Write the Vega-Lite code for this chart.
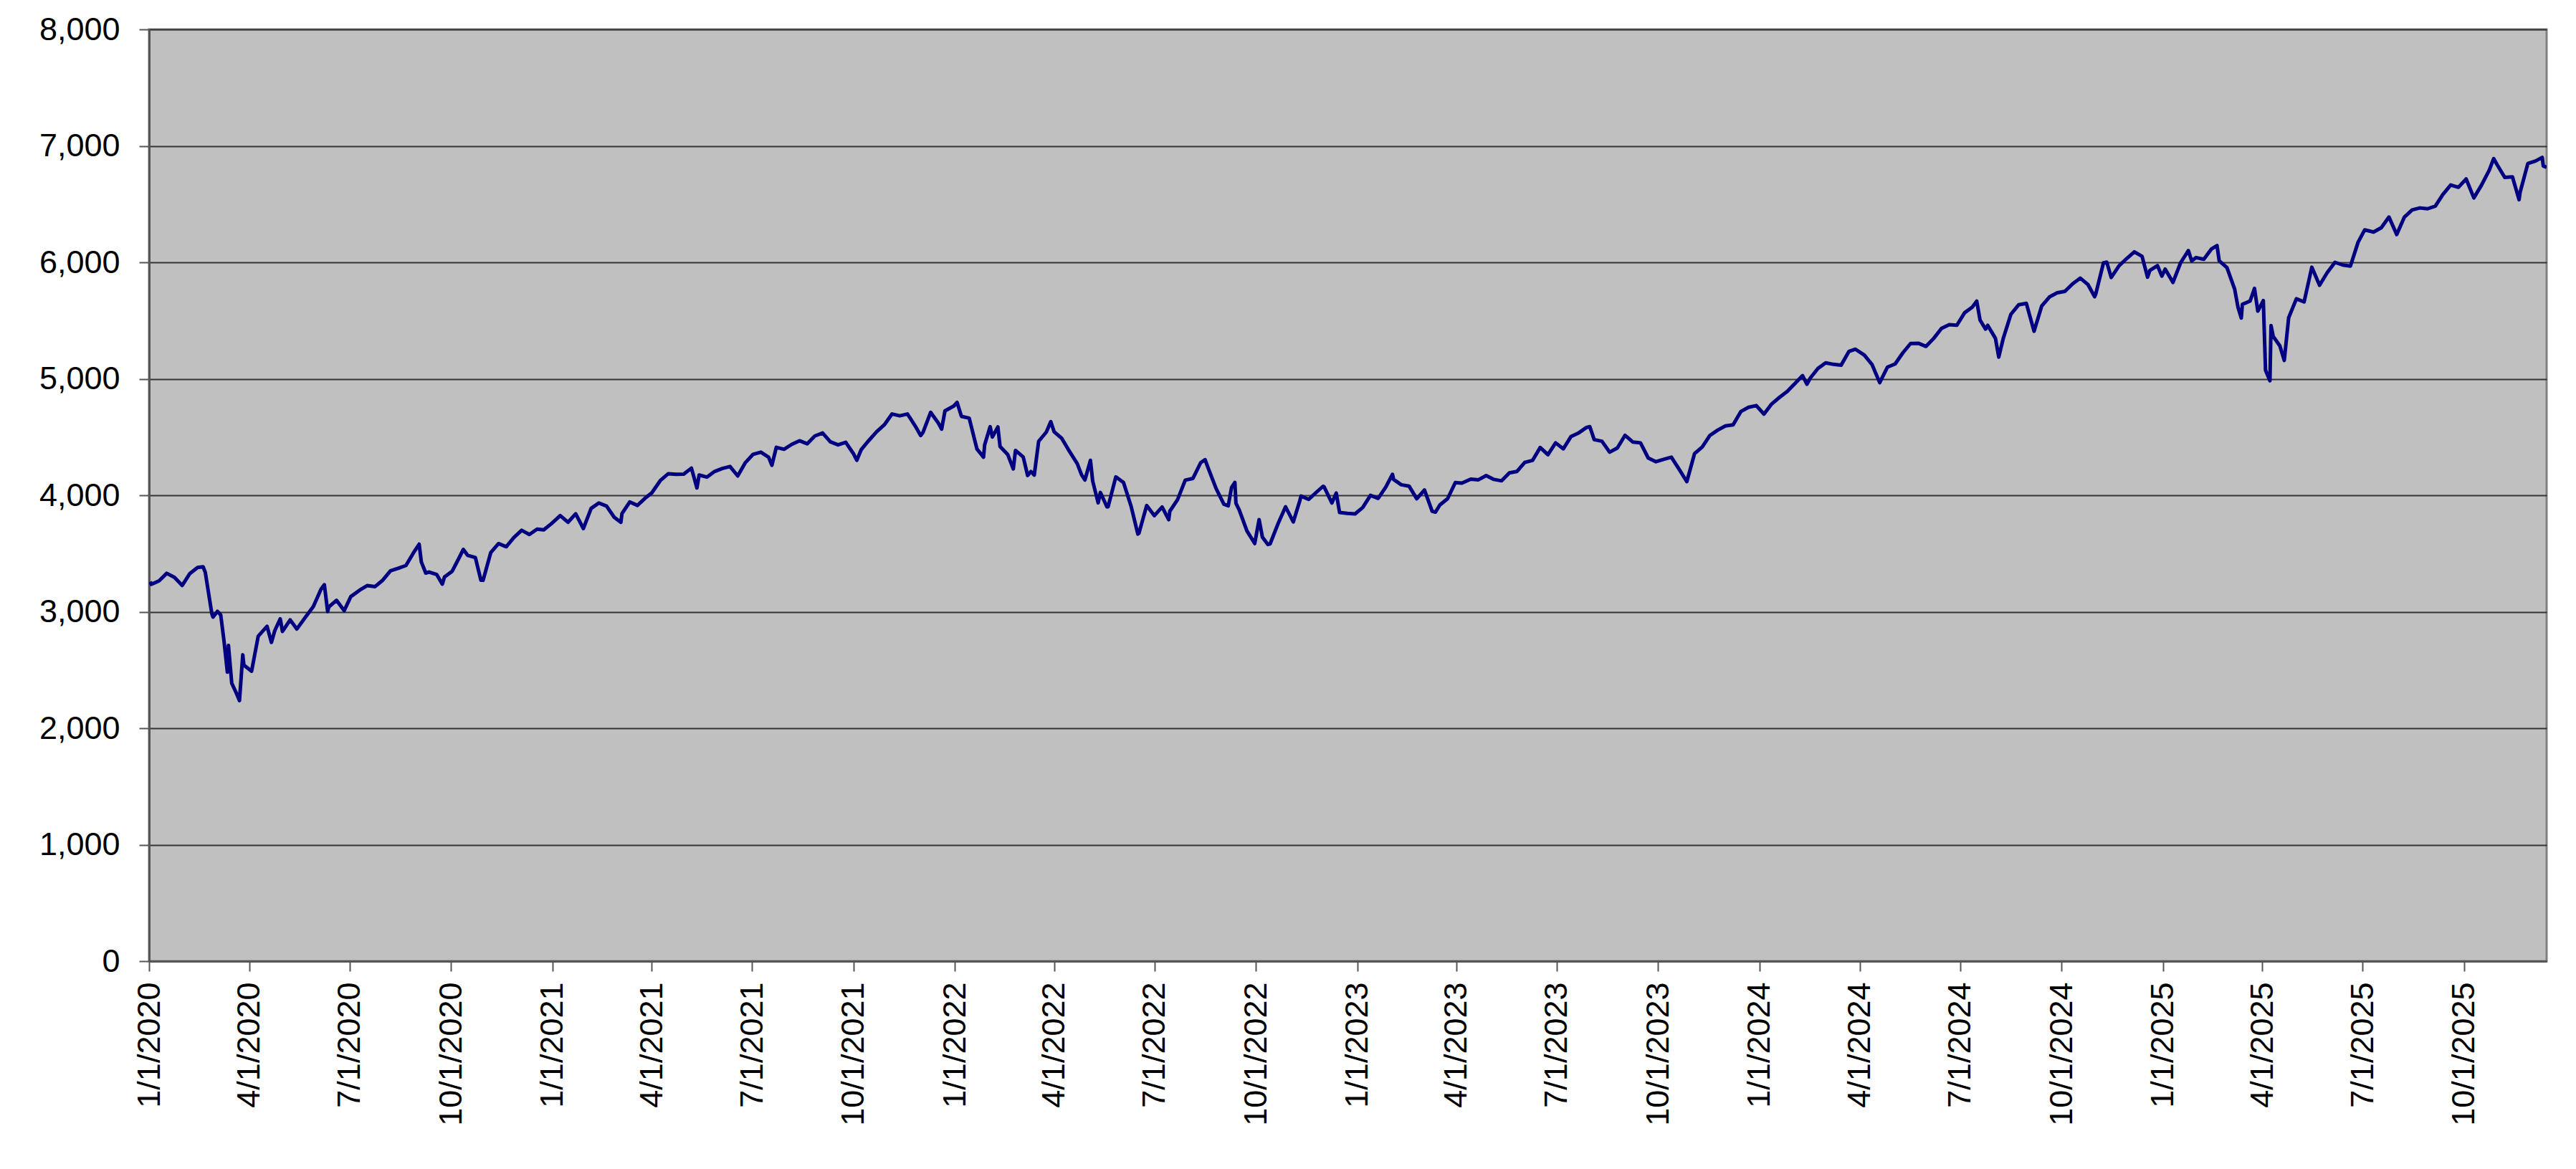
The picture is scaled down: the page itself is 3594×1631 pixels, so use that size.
{
  "$schema": "https://vega.github.io/schema/vega-lite/v6.json",
  "width": 3345,
  "height": 1300,
  "autosize": {"type": "none"},
  "padding": {"left": 208, "top": 41, "right": 41, "bottom": 290},
  "background": "#ffffff",
  "data": {
    "values": [
      {"date": "2020-01-02", "close": 3258}, {"date": "2020-01-03", "close": 3235}, {"date": "2020-01-10", "close": 3265},
      {"date": "2020-01-17", "close": 3330}, {"date": "2020-01-24", "close": 3295}, {"date": "2020-01-31", "close": 3226},
      {"date": "2020-02-07", "close": 3328}, {"date": "2020-02-14", "close": 3380}, {"date": "2020-02-19", "close": 3386},
      {"date": "2020-02-21", "close": 3338}, {"date": "2020-02-27", "close": 2979}, {"date": "2020-02-28", "close": 2954},
      {"date": "2020-03-03", "close": 3003}, {"date": "2020-03-06", "close": 2972}, {"date": "2020-03-09", "close": 2747},
      {"date": "2020-03-12", "close": 2481}, {"date": "2020-03-13", "close": 2711}, {"date": "2020-03-16", "close": 2386},
      {"date": "2020-03-20", "close": 2305}, {"date": "2020-03-23", "close": 2237}, {"date": "2020-03-26", "close": 2630},
      {"date": "2020-03-27", "close": 2541}, {"date": "2020-04-03", "close": 2489}, {"date": "2020-04-09", "close": 2790},
      {"date": "2020-04-17", "close": 2875}, {"date": "2020-04-21", "close": 2737}, {"date": "2020-04-24", "close": 2837},
      {"date": "2020-04-29", "close": 2939}, {"date": "2020-05-01", "close": 2831}, {"date": "2020-05-08", "close": 2930},
      {"date": "2020-05-14", "close": 2852}, {"date": "2020-05-15", "close": 2864}, {"date": "2020-05-22", "close": 2955},
      {"date": "2020-05-29", "close": 3044}, {"date": "2020-06-05", "close": 3194}, {"date": "2020-06-08", "close": 3232},
      {"date": "2020-06-11", "close": 3002}, {"date": "2020-06-12", "close": 3041}, {"date": "2020-06-19", "close": 3098},
      {"date": "2020-06-26", "close": 3009}, {"date": "2020-07-02", "close": 3130}, {"date": "2020-07-10", "close": 3185},
      {"date": "2020-07-17", "close": 3225}, {"date": "2020-07-24", "close": 3216}, {"date": "2020-07-31", "close": 3271},
      {"date": "2020-08-07", "close": 3351}, {"date": "2020-08-14", "close": 3373}, {"date": "2020-08-21", "close": 3397},
      {"date": "2020-08-28", "close": 3508}, {"date": "2020-09-02", "close": 3580}, {"date": "2020-09-04", "close": 3427},
      {"date": "2020-09-08", "close": 3332}, {"date": "2020-09-11", "close": 3341}, {"date": "2020-09-18", "close": 3319},
      {"date": "2020-09-23", "close": 3237}, {"date": "2020-09-25", "close": 3298}, {"date": "2020-10-02", "close": 3348},
      {"date": "2020-10-09", "close": 3477}, {"date": "2020-10-12", "close": 3535}, {"date": "2020-10-16", "close": 3484},
      {"date": "2020-10-23", "close": 3465}, {"date": "2020-10-28", "close": 3271}, {"date": "2020-10-30", "close": 3270},
      {"date": "2020-11-06", "close": 3509}, {"date": "2020-11-13", "close": 3585}, {"date": "2020-11-20", "close": 3558},
      {"date": "2020-11-27", "close": 3638}, {"date": "2020-12-04", "close": 3699}, {"date": "2020-12-11", "close": 3663},
      {"date": "2020-12-18", "close": 3709}, {"date": "2020-12-24", "close": 3703}, {"date": "2020-12-31", "close": 3756},
      {"date": "2021-01-08", "close": 3825}, {"date": "2021-01-15", "close": 3768}, {"date": "2021-01-22", "close": 3841},
      {"date": "2021-01-29", "close": 3714}, {"date": "2021-02-05", "close": 3887}, {"date": "2021-02-12", "close": 3934},
      {"date": "2021-02-19", "close": 3907}, {"date": "2021-02-26", "close": 3811}, {"date": "2021-03-04", "close": 3768},
      {"date": "2021-03-05", "close": 3842}, {"date": "2021-03-12", "close": 3943}, {"date": "2021-03-19", "close": 3913},
      {"date": "2021-03-26", "close": 3975}, {"date": "2021-04-01", "close": 4020}, {"date": "2021-04-09", "close": 4129},
      {"date": "2021-04-16", "close": 4185}, {"date": "2021-04-23", "close": 4180}, {"date": "2021-04-30", "close": 4181},
      {"date": "2021-05-07", "close": 4233}, {"date": "2021-05-12", "close": 4063}, {"date": "2021-05-14", "close": 4174},
      {"date": "2021-05-21", "close": 4156}, {"date": "2021-05-28", "close": 4204}, {"date": "2021-06-04", "close": 4230},
      {"date": "2021-06-11", "close": 4247}, {"date": "2021-06-18", "close": 4166}, {"date": "2021-06-25", "close": 4281},
      {"date": "2021-07-02", "close": 4352}, {"date": "2021-07-09", "close": 4370}, {"date": "2021-07-16", "close": 4327},
      {"date": "2021-07-19", "close": 4258}, {"date": "2021-07-23", "close": 4412}, {"date": "2021-07-30", "close": 4395},
      {"date": "2021-08-06", "close": 4437}, {"date": "2021-08-13", "close": 4468}, {"date": "2021-08-20", "close": 4442},
      {"date": "2021-08-27", "close": 4509}, {"date": "2021-09-03", "close": 4535}, {"date": "2021-09-10", "close": 4459},
      {"date": "2021-09-17", "close": 4433}, {"date": "2021-09-24", "close": 4455}, {"date": "2021-10-01", "close": 4357},
      {"date": "2021-10-04", "close": 4300}, {"date": "2021-10-08", "close": 4391}, {"date": "2021-10-15", "close": 4471},
      {"date": "2021-10-22", "close": 4545}, {"date": "2021-10-29", "close": 4605}, {"date": "2021-11-05", "close": 4698},
      {"date": "2021-11-12", "close": 4682}, {"date": "2021-11-19", "close": 4698}, {"date": "2021-11-26", "close": 4595},
      {"date": "2021-12-01", "close": 4513}, {"date": "2021-12-03", "close": 4538}, {"date": "2021-12-10", "close": 4712},
      {"date": "2021-12-17", "close": 4620}, {"date": "2021-12-20", "close": 4568}, {"date": "2021-12-23", "close": 4725},
      {"date": "2021-12-31", "close": 4766},
      {"date": "2022-01-03", "close": 4797}, {"date": "2022-01-07", "close": 4677}, {"date": "2022-01-14", "close": 4662},
      {"date": "2022-01-21", "close": 4398}, {"date": "2022-01-27", "close": 4327}, {"date": "2022-01-28", "close": 4432},
      {"date": "2022-02-02", "close": 4589}, {"date": "2022-02-04", "close": 4500}, {"date": "2022-02-09", "close": 4587},
      {"date": "2022-02-11", "close": 4419}, {"date": "2022-02-18", "close": 4349}, {"date": "2022-02-23", "close": 4226},
      {"date": "2022-02-25", "close": 4385}, {"date": "2022-03-04", "close": 4329}, {"date": "2022-03-08", "close": 4170},
      {"date": "2022-03-11", "close": 4204}, {"date": "2022-03-14", "close": 4173}, {"date": "2022-03-18", "close": 4463},
      {"date": "2022-03-25", "close": 4543}, {"date": "2022-03-29", "close": 4632}, {"date": "2022-04-01", "close": 4546},
      {"date": "2022-04-08", "close": 4488}, {"date": "2022-04-14", "close": 4392}, {"date": "2022-04-22", "close": 4272},
      {"date": "2022-04-26", "close": 4175}, {"date": "2022-04-29", "close": 4132}, {"date": "2022-05-04", "close": 4300},
      {"date": "2022-05-06", "close": 4123}, {"date": "2022-05-11", "close": 3935}, {"date": "2022-05-13", "close": 4024},
      {"date": "2022-05-19", "close": 3900}, {"date": "2022-05-20", "close": 3901}, {"date": "2022-05-27", "close": 4158},
      {"date": "2022-06-03", "close": 4109}, {"date": "2022-06-10", "close": 3901}, {"date": "2022-06-16", "close": 3667},
      {"date": "2022-06-17", "close": 3675}, {"date": "2022-06-24", "close": 3912}, {"date": "2022-07-01", "close": 3825},
      {"date": "2022-07-08", "close": 3899}, {"date": "2022-07-14", "close": 3790}, {"date": "2022-07-15", "close": 3863},
      {"date": "2022-07-22", "close": 3962}, {"date": "2022-07-29", "close": 4130}, {"date": "2022-08-05", "close": 4145},
      {"date": "2022-08-12", "close": 4280}, {"date": "2022-08-16", "close": 4305}, {"date": "2022-08-19", "close": 4228},
      {"date": "2022-08-26", "close": 4058}, {"date": "2022-09-02", "close": 3924}, {"date": "2022-09-06", "close": 3909},
      {"date": "2022-09-09", "close": 4067}, {"date": "2022-09-12", "close": 4110}, {"date": "2022-09-13", "close": 3932},
      {"date": "2022-09-16", "close": 3873}, {"date": "2022-09-23", "close": 3693}, {"date": "2022-09-30", "close": 3586},
      {"date": "2022-10-04", "close": 3791}, {"date": "2022-10-07", "close": 3640}, {"date": "2022-10-12", "close": 3577},
      {"date": "2022-10-14", "close": 3583}, {"date": "2022-10-21", "close": 3752}, {"date": "2022-10-28", "close": 3901},
      {"date": "2022-11-04", "close": 3771}, {"date": "2022-11-10", "close": 3956}, {"date": "2022-11-11", "close": 3993},
      {"date": "2022-11-18", "close": 3965}, {"date": "2022-11-25", "close": 4026}, {"date": "2022-12-01", "close": 4077},
      {"date": "2022-12-02", "close": 4072}, {"date": "2022-12-09", "close": 3934}, {"date": "2022-12-13", "close": 4019},
      {"date": "2022-12-16", "close": 3852}, {"date": "2022-12-23", "close": 3845}, {"date": "2022-12-30", "close": 3840},
      {"date": "2023-01-06", "close": 3895}, {"date": "2023-01-13", "close": 3999}, {"date": "2023-01-20", "close": 3973},
      {"date": "2023-01-27", "close": 4071}, {"date": "2023-02-02", "close": 4180}, {"date": "2023-02-03", "close": 4136},
      {"date": "2023-02-10", "close": 4090}, {"date": "2023-02-17", "close": 4079}, {"date": "2023-02-24", "close": 3970},
      {"date": "2023-03-03", "close": 4046}, {"date": "2023-03-10", "close": 3862}, {"date": "2023-03-13", "close": 3855},
      {"date": "2023-03-17", "close": 3917}, {"date": "2023-03-24", "close": 3971}, {"date": "2023-03-31", "close": 4109},
      {"date": "2023-04-06", "close": 4105}, {"date": "2023-04-14", "close": 4138}, {"date": "2023-04-21", "close": 4133},
      {"date": "2023-04-28", "close": 4169}, {"date": "2023-05-05", "close": 4136}, {"date": "2023-05-12", "close": 4124},
      {"date": "2023-05-19", "close": 4192}, {"date": "2023-05-26", "close": 4205}, {"date": "2023-06-02", "close": 4282},
      {"date": "2023-06-09", "close": 4299}, {"date": "2023-06-16", "close": 4410}, {"date": "2023-06-23", "close": 4348},
      {"date": "2023-06-30", "close": 4450}, {"date": "2023-07-07", "close": 4399}, {"date": "2023-07-14", "close": 4505},
      {"date": "2023-07-21", "close": 4536}, {"date": "2023-07-28", "close": 4582}, {"date": "2023-07-31", "close": 4589},
      {"date": "2023-08-04", "close": 4478}, {"date": "2023-08-11", "close": 4464}, {"date": "2023-08-18", "close": 4370},
      {"date": "2023-08-25", "close": 4406}, {"date": "2023-09-01", "close": 4515}, {"date": "2023-09-08", "close": 4457},
      {"date": "2023-09-15", "close": 4450}, {"date": "2023-09-22", "close": 4320}, {"date": "2023-09-29", "close": 4288},
      {"date": "2023-10-06", "close": 4309}, {"date": "2023-10-13", "close": 4327}, {"date": "2023-10-20", "close": 4224},
      {"date": "2023-10-27", "close": 4117}, {"date": "2023-11-03", "close": 4358}, {"date": "2023-11-10", "close": 4415},
      {"date": "2023-11-17", "close": 4514}, {"date": "2023-11-24", "close": 4559}, {"date": "2023-12-01", "close": 4595},
      {"date": "2023-12-08", "close": 4604}, {"date": "2023-12-15", "close": 4719}, {"date": "2023-12-22", "close": 4755},
      {"date": "2023-12-29", "close": 4770},
      {"date": "2024-01-05", "close": 4697}, {"date": "2024-01-12", "close": 4784}, {"date": "2024-01-19", "close": 4840},
      {"date": "2024-01-26", "close": 4891}, {"date": "2024-02-02", "close": 4959}, {"date": "2024-02-09", "close": 5027},
      {"date": "2024-02-13", "close": 4953}, {"date": "2024-02-16", "close": 5006}, {"date": "2024-02-23", "close": 5089},
      {"date": "2024-03-01", "close": 5137}, {"date": "2024-03-08", "close": 5124}, {"date": "2024-03-15", "close": 5117},
      {"date": "2024-03-22", "close": 5234}, {"date": "2024-03-28", "close": 5254}, {"date": "2024-04-05", "close": 5204},
      {"date": "2024-04-12", "close": 5123}, {"date": "2024-04-19", "close": 4967}, {"date": "2024-04-26", "close": 5100},
      {"date": "2024-05-03", "close": 5128}, {"date": "2024-05-10", "close": 5223}, {"date": "2024-05-17", "close": 5303},
      {"date": "2024-05-24", "close": 5305}, {"date": "2024-05-31", "close": 5278}, {"date": "2024-06-07", "close": 5347},
      {"date": "2024-06-14", "close": 5432}, {"date": "2024-06-21", "close": 5465}, {"date": "2024-06-28", "close": 5460},
      {"date": "2024-07-05", "close": 5567}, {"date": "2024-07-12", "close": 5615}, {"date": "2024-07-16", "close": 5667},
      {"date": "2024-07-19", "close": 5505}, {"date": "2024-07-24", "close": 5427}, {"date": "2024-07-26", "close": 5459},
      {"date": "2024-08-02", "close": 5347}, {"date": "2024-08-05", "close": 5186}, {"date": "2024-08-09", "close": 5344},
      {"date": "2024-08-16", "close": 5554}, {"date": "2024-08-23", "close": 5635}, {"date": "2024-08-30", "close": 5648},
      {"date": "2024-09-06", "close": 5408}, {"date": "2024-09-13", "close": 5626}, {"date": "2024-09-20", "close": 5703},
      {"date": "2024-09-27", "close": 5738}, {"date": "2024-10-04", "close": 5751}, {"date": "2024-10-11", "close": 5815},
      {"date": "2024-10-18", "close": 5864}, {"date": "2024-10-25", "close": 5808}, {"date": "2024-10-31", "close": 5705},
      {"date": "2024-11-01", "close": 5729}, {"date": "2024-11-08", "close": 5996}, {"date": "2024-11-11", "close": 6001},
      {"date": "2024-11-15", "close": 5870}, {"date": "2024-11-22", "close": 5969}, {"date": "2024-11-29", "close": 6032},
      {"date": "2024-12-06", "close": 6090}, {"date": "2024-12-13", "close": 6051}, {"date": "2024-12-18", "close": 5872},
      {"date": "2024-12-20", "close": 5930}, {"date": "2024-12-27", "close": 5971}, {"date": "2024-12-31", "close": 5882},
      {"date": "2025-01-03", "close": 5942}, {"date": "2025-01-10", "close": 5827}, {"date": "2025-01-17", "close": 5997},
      {"date": "2025-01-24", "close": 6101}, {"date": "2025-01-27", "close": 6012}, {"date": "2025-01-31", "close": 6041},
      {"date": "2025-02-07", "close": 6026}, {"date": "2025-02-14", "close": 6115}, {"date": "2025-02-19", "close": 6144},
      {"date": "2025-02-21", "close": 6013}, {"date": "2025-02-28", "close": 5955}, {"date": "2025-03-07", "close": 5770},
      {"date": "2025-03-10", "close": 5615}, {"date": "2025-03-13", "close": 5522}, {"date": "2025-03-14", "close": 5639},
      {"date": "2025-03-21", "close": 5668}, {"date": "2025-03-25", "close": 5777}, {"date": "2025-03-28", "close": 5581},
      {"date": "2025-04-02", "close": 5671}, {"date": "2025-04-04", "close": 5074}, {"date": "2025-04-08", "close": 4983},
      {"date": "2025-04-09", "close": 5457}, {"date": "2025-04-11", "close": 5363}, {"date": "2025-04-17", "close": 5283},
      {"date": "2025-04-21", "close": 5158}, {"date": "2025-04-25", "close": 5525}, {"date": "2025-05-02", "close": 5687},
      {"date": "2025-05-09", "close": 5660}, {"date": "2025-05-16", "close": 5958}, {"date": "2025-05-23", "close": 5803},
      {"date": "2025-05-30", "close": 5912}, {"date": "2025-06-06", "close": 6000}, {"date": "2025-06-13", "close": 5977},
      {"date": "2025-06-20", "close": 5968}, {"date": "2025-06-27", "close": 6173}, {"date": "2025-07-03", "close": 6279},
      {"date": "2025-07-11", "close": 6260}, {"date": "2025-07-18", "close": 6297}, {"date": "2025-07-25", "close": 6389},
      {"date": "2025-08-01", "close": 6238}, {"date": "2025-08-08", "close": 6389}, {"date": "2025-08-15", "close": 6450},
      {"date": "2025-08-22", "close": 6467}, {"date": "2025-08-29", "close": 6460}, {"date": "2025-09-05", "close": 6482},
      {"date": "2025-09-12", "close": 6584}, {"date": "2025-09-19", "close": 6664}, {"date": "2025-09-26", "close": 6644},
      {"date": "2025-10-03", "close": 6716}, {"date": "2025-10-10", "close": 6553}, {"date": "2025-10-17", "close": 6664},
      {"date": "2025-10-24", "close": 6792}, {"date": "2025-10-28", "close": 6891}, {"date": "2025-10-31", "close": 6840},
      {"date": "2025-11-07", "close": 6729}, {"date": "2025-11-14", "close": 6734}, {"date": "2025-11-20", "close": 6538},
      {"date": "2025-11-21", "close": 6603}, {"date": "2025-11-28", "close": 6849}, {"date": "2025-12-05", "close": 6870},
      {"date": "2025-12-11", "close": 6901}, {"date": "2025-12-12", "close": 6827}, {"date": "2025-12-15", "close": 6816}
    ]
  },
  "mark": {"type": "line", "color": "#000080", "strokeWidth": 5, "strokeJoin": "round", "clip": true},
  "encoding": {
    "x": {
      "field": "date",
      "type": "temporal",
      "title": null,
      "scale": {"type": "utc", "domain": [{"year": 2020, "month": 1, "date": 1, "utc": true}, {"year": 2025, "month": 12, "date": 15, "utc": true}]},
      "axis": {
        "values": [
          {"year": 2020, "month": 1, "date": 1, "utc": true}, {"year": 2020, "month": 4, "date": 1, "utc": true},
          {"year": 2020, "month": 7, "date": 1, "utc": true}, {"year": 2020, "month": 10, "date": 1, "utc": true},
          {"year": 2021, "month": 1, "date": 1, "utc": true}, {"year": 2021, "month": 4, "date": 1, "utc": true},
          {"year": 2021, "month": 7, "date": 1, "utc": true}, {"year": 2021, "month": 10, "date": 1, "utc": true},
          {"year": 2022, "month": 1, "date": 1, "utc": true}, {"year": 2022, "month": 4, "date": 1, "utc": true},
          {"year": 2022, "month": 7, "date": 1, "utc": true}, {"year": 2022, "month": 10, "date": 1, "utc": true},
          {"year": 2023, "month": 1, "date": 1, "utc": true}, {"year": 2023, "month": 4, "date": 1, "utc": true},
          {"year": 2023, "month": 7, "date": 1, "utc": true}, {"year": 2023, "month": 10, "date": 1, "utc": true},
          {"year": 2024, "month": 1, "date": 1, "utc": true}, {"year": 2024, "month": 4, "date": 1, "utc": true},
          {"year": 2024, "month": 7, "date": 1, "utc": true}, {"year": 2024, "month": 10, "date": 1, "utc": true},
          {"year": 2025, "month": 1, "date": 1, "utc": true}, {"year": 2025, "month": 4, "date": 1, "utc": true},
          {"year": 2025, "month": 7, "date": 1, "utc": true}, {"year": 2025, "month": 10, "date": 1, "utc": true}
        ],
        "labelExpr": "utcFormat(datum.value, '%-m/%-d/%Y')",
        "labelAngle": -90,
        "labelFontSize": 45,
        "labelPadding": 15,
        "labelLimit": 0,
        "labelOverlap": false,
        "labelBound": false,
        "labelFlush": false,
        "tickSize": 14,
        "tickColor": "#555555",
        "tickWidth": 2,
        "domainColor": "#555555",
        "domainWidth": 3,
        "grid": false
      }
    },
    "y": {
      "field": "close",
      "type": "quantitative",
      "title": null,
      "scale": {"domain": [0, 8000], "nice": false, "zero": true},
      "axis": {
        "values": [0, 1000, 2000, 3000, 4000, 5000, 6000, 7000, 8000],
        "format": ",d",
        "labelFontSize": 45,
        "labelPadding": 27,
        "labelLimit": 0,
        "labelFlush": false,
        "labelBound": false,
        "tickSize": 14,
        "tickColor": "#555555",
        "tickWidth": 2,
        "domainColor": "#555555",
        "domainWidth": 3,
        "grid": true,
        "gridColor": "#333333",
        "gridWidth": 2
      }
    }
  },
  "config": {
    "font": "Liberation Sans",
    "axis": {"labelColor": "#000000", "labelFont": "Liberation Sans"},
    "view": {"fill": "#c0c0c0", "stroke": "#808080", "strokeWidth": 3}
  }
}
